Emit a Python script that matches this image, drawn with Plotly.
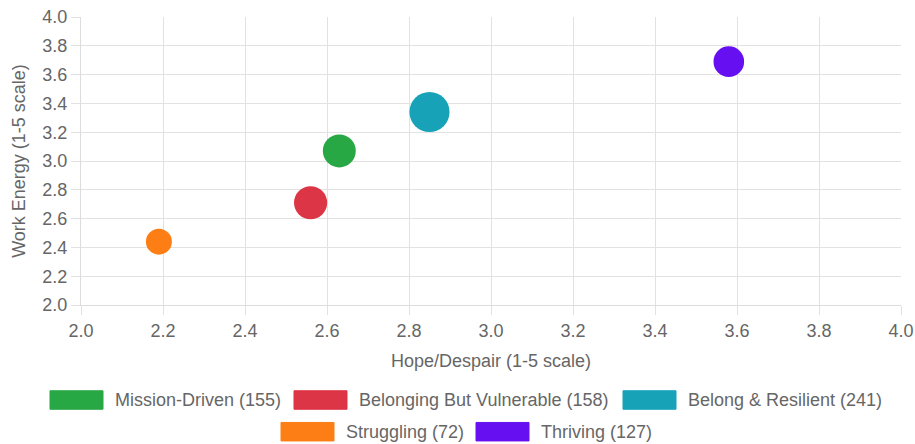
import plotly.graph_objects as go

# Segment data: hope/despair score, work energy score, respondent count
segments = ["Mission-Driven", "Belonging But Vulnerable", "Belong & Resilient", "Struggling", "Thriving"]
hope = [2.63, 2.56, 2.85, 2.19, 3.58]
energy = [3.07, 2.71, 3.34, 2.44, 3.69]
counts = [155, 158, 241, 72, 127]
colors = ["#28a745", "#dc3545", "#17a2b8", "#fd7e14", "#6610f2"]

W, H = 915, 444
L, R, T, B = 81, 14, 17, 139
PW, PH = W - L - R, H - T - B
FONT = "Liberation Sans, Arial, Helvetica, sans-serif"
TXT = "#666666"
GRID = "#e2e2e2"

fig = go.Figure()
for name, x, y, n, c in zip(segments, hope, energy, counts, colors):
    radius = 10 + n / 24
    fig.add_trace(go.Scatter(
        x=[x], y=[y], mode="markers", name=f"{name} ({n})",
        marker=dict(size=2 * radius, color=c, line=dict(width=0)),
        showlegend=False,
    ))

# Legend drawn as boxes + labels, two centred rows
legend_pos = [  # (box_left_px, row)
    (50, 0), (294, 0), (623, 0), (281, 1), (476, 1)
]
row_y = [400, 431.7]
box_w, box_h, gap = 53, 18.5, 10


def px_x(p):
    return (p - L) / PW


def px_y(p):
    return (H - B - p) / PH


shapes = []
annotations = []
for (bx, row), name, n, c in zip(legend_pos, segments, counts, colors):
    cy = row_y[row]
    shapes.append(dict(
        type="rect", xref="paper", yref="paper",
        x0=px_x(bx), x1=px_x(bx + box_w),
        y0=px_y(cy - box_h / 2), y1=px_y(cy + box_h / 2),
        fillcolor=c, line=dict(color=c, width=1), layer="above",
    ))
    annotations.append(dict(
        xref="paper", yref="paper", x=px_x(bx + box_w + gap), y=px_y(cy),
        xanchor="left", yanchor="middle", showarrow=False,
        text=f"{name} ({n})", font=dict(family=FONT, size=18, color=TXT),
    ))

axis_common = dict(
    range=[2, 4], dtick=0.2, tick0=2, tickformat=".1f",
    showgrid=True, gridcolor=GRID, gridwidth=1,
    ticks="outside", ticklen=9, tickcolor=GRID, tickwidth=1,
    showline=True, linecolor="#dcdcdc", linewidth=1, mirror=False,
    zeroline=False, fixedrange=True, automargin=False,
    tickfont=dict(family=FONT, size=18, color=TXT),
)

fig.update_layout(
    width=W, height=H,
    margin=dict(l=L, r=R, t=T, b=B),
    paper_bgcolor="white", plot_bgcolor="white",
    font=dict(family=FONT, size=18, color=TXT),
    xaxis=dict(**axis_common,
               title=dict(text="Hope/Despair (1-5 scale)", standoff=14,
                          font=dict(family=FONT, size=18, color=TXT))),
    yaxis=dict(**axis_common,
               title=dict(text="Work Energy (1-5 scale)", standoff=12,
                          font=dict(family=FONT, size=18, color=TXT))),
    shapes=shapes, annotations=annotations,
    showlegend=False,
)

fig.write_html("out.html", config={"displayModeBar": False})
